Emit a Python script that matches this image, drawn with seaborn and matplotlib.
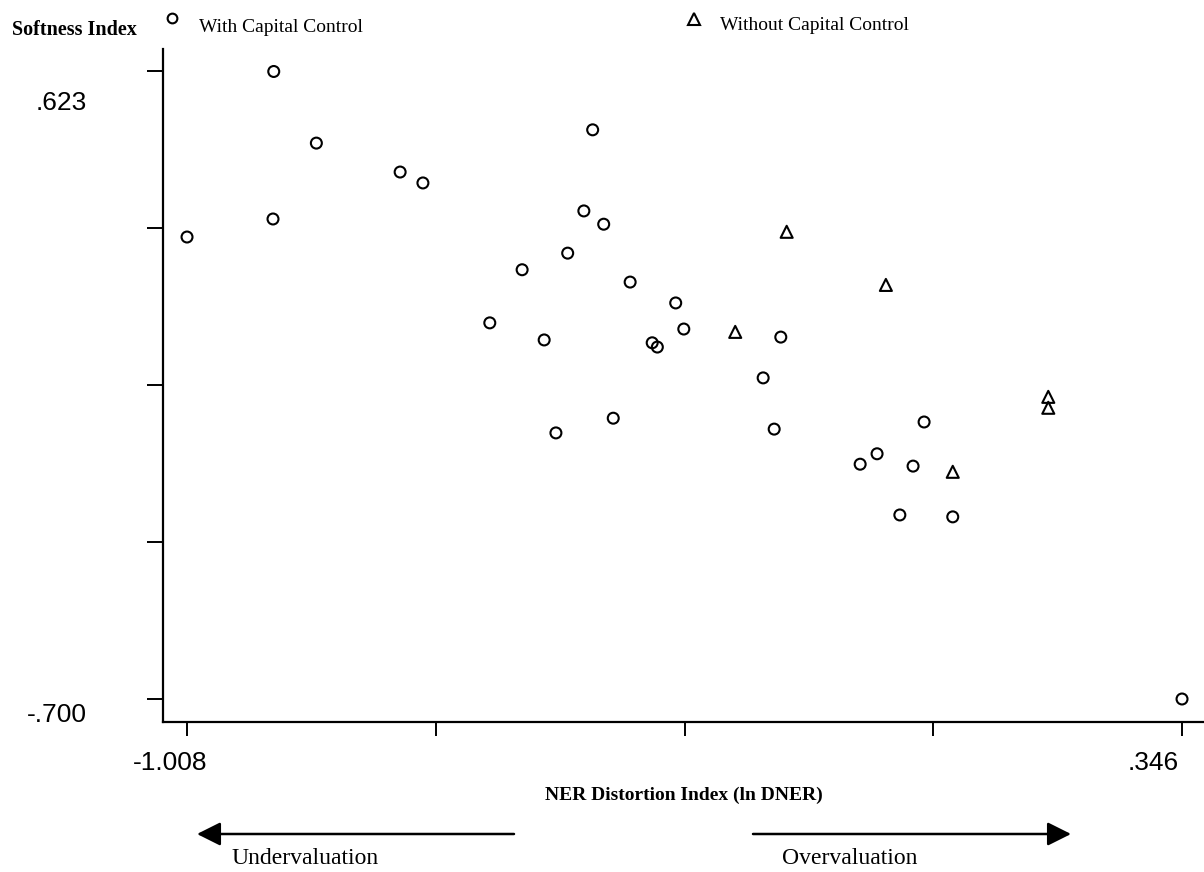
import matplotlib
matplotlib.use("Agg")
import matplotlib.pyplot as plt
import matplotlib.transforms as mtransforms
from matplotlib.lines import Line2D
import seaborn as sns
import pandas as pd

# ---- data ----
with_x = [-1.008, -0.890, -0.891, -0.832, -0.718, -0.687, -0.596, -0.552, -0.522, -0.506,
          -0.490, -0.468, -0.456, -0.441, -0.428, -0.405, -0.375, -0.368, -0.343, -0.332,
          -0.224, -0.209, -0.200, -0.092, -0.069, -0.038, -0.020, -0.005, 0.034, 0.346]
with_y = [0.274, 0.623, 0.312, 0.472, 0.411, 0.388, 0.093, 0.205, 0.057, -0.139,
          0.240, 0.329, 0.500, 0.301, -0.108, 0.179, 0.051, 0.042, 0.135, 0.080,
          -0.023, -0.131, 0.063, -0.205, -0.183, -0.312, -0.209, -0.116, -0.316, -0.700]
without_x = [-0.262, -0.192, -0.057, 0.034, 0.164, 0.164]
without_y = [0.074, 0.285, 0.173, -0.221, -0.063, -0.086]

x_ticks = [-1.008, -0.6695, -0.331, 0.0075, 0.346]
x_ticklabels = ["-1.008", "", "", "", ".346"]
y_ticks = [-0.700, -0.36925, -0.0385, 0.29225, 0.623]
y_ticklabels = ["-.700", "", "", "", ".623"]

legend_labels = ["With Capital Control", "Without Capital Control"]

df_with = pd.DataFrame({"x": with_x, "y": with_y})
df_without = pd.DataFrame({"x": without_x, "y": without_y})

sns.set_style("white")
plt.rcParams["font.family"] = ["Liberation Serif", "DejaVu Serif"]
plt.rcParams["text.color"] = "black"
plt.rcParams["xtick.color"] = "black"
plt.rcParams["ytick.color"] = "black"
plt.rcParams["axes.edgecolor"] = "black"

W, H = 1204, 872
fig = plt.figure(figsize=(W / 100, H / 100), dpi=100)
ax = fig.add_axes([163 / W, (H - 722) / H, (W - 163) / W, (722 - 49) / H])

sns.scatterplot(data=df_with, x="x", y="y", ax=ax, marker="o", s=62,
                facecolors="none", edgecolor="black", linewidth=1.5, legend=False)
sns.scatterplot(data=df_without, x="x", y="y", ax=ax, marker="^", s=75,
                facecolors="none", edgecolor="black", linewidth=1.5, legend=False)

ax.set_xlim(-1.0407, 0.3759)
ax.set_ylim(-0.7485, 0.6704)
for s in ["top", "right"]:
    ax.spines[s].set_visible(False)
for s in ["left", "bottom"]:
    ax.spines[s].set_color("black")
    ax.spines[s].set_linewidth(1.6)

ax.set_xticks(x_ticks)
ax.set_xticklabels(x_ticklabels, fontfamily="Liberation Sans", fontsize=19, color="black")
ax.set_yticks(y_ticks)
ax.set_yticklabels(y_ticklabels, fontfamily="Liberation Sans", fontsize=19, color="black")
ax.tick_params(axis="x", which="major", bottom=True, direction="out", length=10, width=1.4,
               color="black", pad=11)
ax.tick_params(axis="y", which="major", left=True, direction="out", length=11.5, width=1.4,
               color="black", pad=43)
ax.set_xlabel("")
ax.set_ylabel("")
ax.grid(False)

# shift end labels like the reference
xoffs = [-17, 0, 0, 0, -29]
for lab, dx in zip(ax.get_xticklabels(), xoffs):
    lab.set_transform(lab.get_transform() + mtransforms.ScaledTranslation(dx / 100, 0, fig.dpi_scale_trans))
yoffs = [-14, 0, 0, 0, -29]
for lab, dy in zip(ax.get_yticklabels(), yoffs):
    lab.set_transform(lab.get_transform() + mtransforms.ScaledTranslation(0, dy / 100, fig.dpi_scale_trans))

def fy(py):
    return (H - py) / H

# title / legend row
fig.text(12 / W, fy(30), "Softness Index", fontsize=14.5, fontweight="bold", ha="left", va="center")
fig.add_artist(Line2D([172 / W], [fy(18)], marker="o", markersize=7, markerfacecolor="none",
                      markeredgecolor="black", markeredgewidth=1.5, linestyle="none",
                      transform=fig.transFigure))
fig.text(199 / W, fy(27), legend_labels[0], fontsize=14, ha="left", va="center")
fig.add_artist(Line2D([694 / W], [fy(19)], marker="^", markersize=8, markerfacecolor="none",
                      markeredgecolor="black", markeredgewidth=1.5, linestyle="none",
                      transform=fig.transFigure))
fig.text(720 / W, fy(26), legend_labels[1], fontsize=14, ha="left", va="center")

# x axis title
fig.text(684 / W, fy(795), "NER Distortion Index (ln DNER)", fontsize=14, fontweight="bold",
         ha="center", va="center")

# arrows
arrow_kw = dict(arrowstyle="-|>,head_length=0.4,head_width=0.2", mutation_scale=36,
                lw=1.8, color="black", shrinkA=0, shrinkB=0)
ax.annotate("", xy=(197, H - 834), xytext=(514, H - 834), xycoords="figure pixels",
            textcoords="figure pixels", arrowprops=arrow_kw, annotation_clip=False)
ax.annotate("", xy=(1071, H - 834), xytext=(753, H - 834), xycoords="figure pixels",
            textcoords="figure pixels", arrowprops=arrow_kw, annotation_clip=False)
fig.text(305 / W, fy(858), "Undervaluation", fontsize=17, ha="center", va="center")
fig.text(850 / W, fy(858), "Overvaluation", fontsize=17, ha="center", va="center")

fig.savefig("out.png", dpi=100, facecolor="white")
